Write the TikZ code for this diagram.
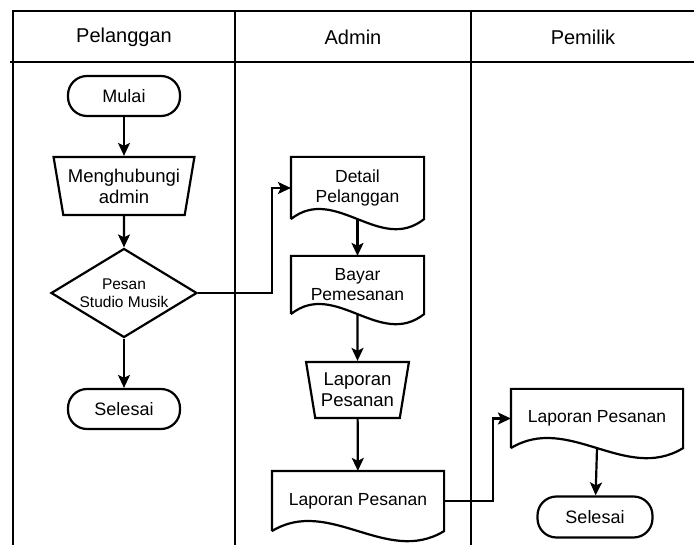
\documentclass[tikz,border=0pt]{standalone}
\usepackage{fontspec}
\setmainfont{Liberation Sans}
\usetikzlibrary{positioning,shapes.geometric,arrows.meta,calc}

\tikzset{
  terminal/.style={draw,rounded corners=19pt,minimum width=112pt,minimum height=40pt,font=\fontsize{18}{20}\selectfont},
  manual/.style={draw,trapezium,shape border rotate=180,trapezium stretches=true,align=center,font=\fontsize{18.5}{21}\selectfont},
  decision/.style={draw,diamond,aspect=1.64,inner sep=0pt,minimum width=146pt,minimum height=89pt,align=center,font=\fontsize{15.5}{18}\selectfont},
  docbox/.style={minimum width=131pt,minimum height=60pt,align=center,font=\fontsize{17.5}{20}\selectfont},
  lane/.style={line width=2.2pt},
  arr/.style={-{Stealth[length=13pt,width=12pt,inset=3pt]}},
}
% document shape drawn round a node
\newcommand{\docoutline}[1]{%
  \draw (#1.south west) -- (#1.north west) -- (#1.north east) -- (#1.south east)
    .. controls ($(#1.south east)!0.333!(#1.south west)+(0,35)$) and ($(#1.south east)!0.667!(#1.south west)+(0,-35)$) .. (#1.south west);}

\begin{document}
\begin{tikzpicture}[x=1pt,y=-1pt,line width=2.2pt,node distance=90pt,on grid]
\useasboundingbox (0,0) rectangle (694,545);

% lanes
\draw[lane] (13,545) -- (13,11) -- (694,11);
\draw[lane] (10,62) -- (694,62);
\draw[lane] (235,11) -- (235,545);
\draw[lane] (471,11) -- (471,545);
\node[font=\fontsize{20}{24}\selectfont] (hpel) at (124,37) {Pelanggan};
\node[font=\fontsize{20}{24}\selectfont] (hadm) at (353,37) {Admin};
\node[font=\fontsize{20}{24}\selectfont] (hpem) at (583,37) {Pemilik};

% Pelanggan
\node[terminal] (mulai) at (124,96) {Mulai};
\node[manual,trapezium angle=77,minimum width=141pt,minimum height=58pt] (hubungi) [below=90pt of mulai] {Menghubungi\\admin};
\node[decision] (pesan) [below=107pt of hubungi] {Pesan\\Studio Musik};
\node[terminal] (selesai1) [below=116pt of pesan] {Selesai};

% Admin
\node[docbox] (detail) at (357.5,188) {Detail\\Pelanggan};
\node[docbox,minimum height=56pt] (bayar) [below=97pt of detail] {Bayar\\Pemesanan};
\node[manual,trapezium angle=78,minimum width=103pt,minimum height=56pt] (laptrap) at (357.5,390) {Laporan\\Pesanan};
\node[docbox,minimum width=170pt,minimum height=58pt] (lapdoc) at (358,501) {Laporan Pesanan};

% Pemilik
\node[docbox,minimum width=170pt,minimum height=57pt] (lappem) at (597,418.5) {Laporan Pesanan};
\node[terminal,minimum width=115pt,minimum height=41pt] (selesai2) at (595,517) {Selesai};

\docoutline{detail}
\docoutline{bayar}
\docoutline{lapdoc}
\docoutline{lappem}

\draw[arr] (mulai) -- (hubungi);
\draw[arr] (hubungi) -- (pesan);
\draw[arr] (pesan) -- (selesai1);
\draw[arr] (pesan.east) -- ++(74,0) |- (detail.west);
\draw[arr] (detail.south) -- (bayar);
\draw[arr] (bayar.south) -- (laptrap);
\draw[arr] (laptrap) -- (lapdoc);
\draw[arr] (lapdoc.east) -- ++(49,0) |- (lappem.west);
\draw[arr] (lappem.south) -- (selesai2);
\end{tikzpicture}
\end{document}
